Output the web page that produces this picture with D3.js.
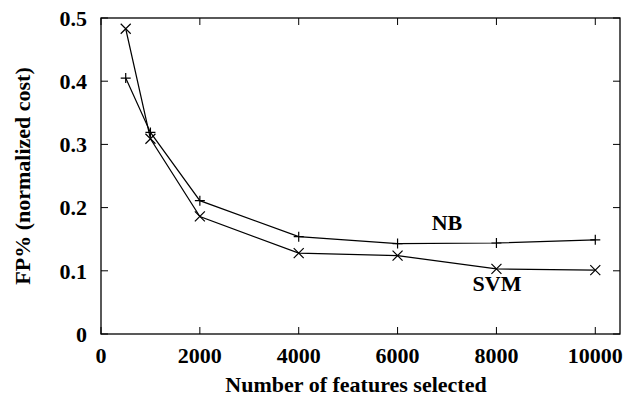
<!DOCTYPE html>
<html>
<head>
<meta charset="utf-8">
<script src="https://cdn.jsdelivr.net/npm/d3@7"></script>
<style>
  body { margin: 0; background: #fff; }
  text { font-family: "Liberation Serif", "Times New Roman", serif; font-weight: bold; fill: #000; }
</style>
</head>
<body>
<div id="chart"></div>
<script>
// values
var features = [500, 1000, 2000, 4000, 6000, 8000, 10000];
var nbVals  = [0.405, 0.319, 0.211, 0.154, 0.143, 0.144, 0.149];
var svmVals = [0.483, 0.309, 0.186, 0.128, 0.124, 0.103, 0.101];
var xTicks = [0, 2000, 4000, 6000, 8000, 10000];
var yTicks = [0, 0.1, 0.2, 0.3, 0.4, 0.5];

var W = 623, H = 400;
var margin = {left: 101, top: 18, right: 3, bottom: 66};
var w = W - margin.left - margin.right,
    h = H - margin.top - margin.bottom;
var fs = '22px';

var svg = d3.select('#chart').append('svg')
  .attr('width', W).attr('height', H);

var g = svg.append('g')
  .attr('transform', 'translate(' + margin.left + ',' + margin.top + ')');

var x = d3.scaleLinear().domain([0, 10500]).range([0, w]);
var y = d3.scaleLinear().domain([0, 0.5]).range([h, 0]);

// frame
g.append('rect')
  .attr('width', w).attr('height', h)
  .attr('fill', 'none').attr('stroke', '#000').attr('stroke-width', 1.3);

var tl = 7;
// x ticks (bottom + mirrored top)
xTicks.forEach(function(t){
  g.append('line').attr('x1', x(t)).attr('x2', x(t)).attr('y1', h).attr('y2', h - tl)
    .attr('stroke', '#000');
  g.append('line').attr('x1', x(t)).attr('x2', x(t)).attr('y1', 0).attr('y2', tl)
    .attr('stroke', '#000');
  g.append('text').attr('x', x(t)).attr('y', h + 29)
    .attr('text-anchor', 'middle').style('font-size', fs)
    .text(t);
});

// y ticks (left + mirrored right)
yTicks.forEach(function(t){
  g.append('line').attr('x1', 0).attr('x2', tl).attr('y1', y(t)).attr('y2', y(t))
    .attr('stroke', '#000');
  g.append('line').attr('x1', w).attr('x2', w - tl).attr('y1', y(t)).attr('y2', y(t))
    .attr('stroke', '#000');
  g.append('text').attr('x', -14).attr('y', y(t)).attr('dy', '0.35em')
    .attr('text-anchor', 'end').style('font-size', fs)
    .text(t === 0 ? '0' : d3.format('.1f')(t));
});

// axis titles
svg.append('text')
  .attr('x', 356).attr('y', 392)
  .attr('text-anchor', 'middle').style('font-size', fs)
  .text('Number of features selected');

svg.append('text')
  .attr('transform', 'translate(30,' + (margin.top + h / 2) + ') rotate(-90)')
  .attr('text-anchor', 'middle').style('font-size', fs)
  .text('FP% (normalized cost)');

var line = d3.line()
  .x(function(d){ return x(d[0]); })
  .y(function(d){ return y(d[1]); });

var nb = d3.zip(features, nbVals),
    svm = d3.zip(features, svmVals);

g.append('path').attr('d', line(nb))
  .attr('fill', 'none').attr('stroke', '#000').attr('stroke-width', 1.2);
g.append('path').attr('d', line(svm))
  .attr('fill', 'none').attr('stroke', '#000').attr('stroke-width', 1.2);

var s = 5;
// plus markers for NB
g.selectAll('.nb-pt').data(nb).enter().append('path')
  .attr('class', 'nb-pt')
  .attr('d', function(d){
    var cx = x(d[0]), cy = y(d[1]);
    return 'M' + (cx - s) + ',' + cy + 'H' + (cx + s) + 'M' + cx + ',' + (cy - s) + 'V' + (cy + s);
  })
  .attr('stroke', '#000').attr('stroke-width', 1.2);

// cross markers for SVM
g.selectAll('.svm-pt').data(svm).enter().append('path')
  .attr('class', 'svm-pt')
  .attr('d', function(d){
    var cx = x(d[0]), cy = y(d[1]);
    return 'M' + (cx - s) + ',' + (cy - s) + 'L' + (cx + s) + ',' + (cy + s) +
           'M' + (cx - s) + ',' + (cy + s) + 'L' + (cx + s) + ',' + (cy - s);
  })
  .attr('stroke', '#000').attr('stroke-width', 1.2);

// series labels
svg.append('text').attr('x', 447).attr('y', 230)
  .attr('text-anchor', 'middle').style('font-size', fs).text('NB');
svg.append('text').attr('x', 497).attr('y', 291)
  .attr('text-anchor', 'middle').style('font-size', fs).text('SVM');
</script>
</body>
</html>
